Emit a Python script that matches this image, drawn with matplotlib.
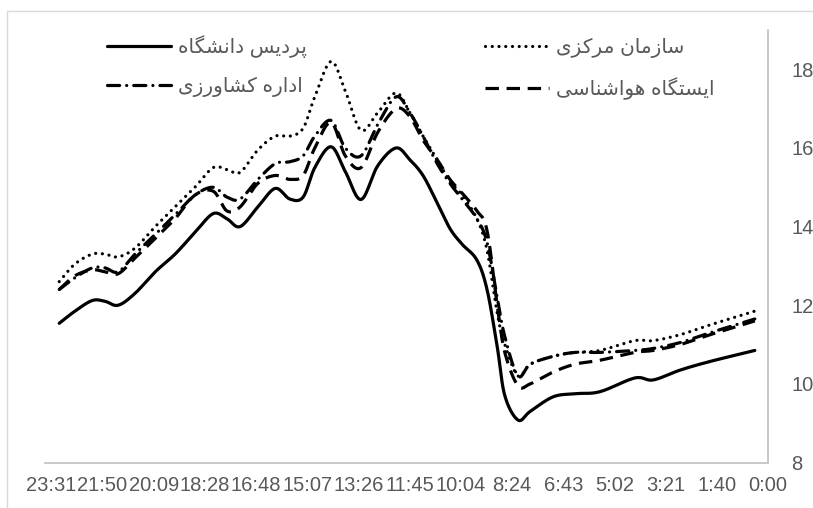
import numpy as np
import matplotlib.pyplot as plt
from matplotlib.patches import Rectangle

# time of day in minutes (axis runs right-to-left)
minutes = [1395, 1364, 1330, 1305, 1279, 1246, 1206, 1167, 1128, 1092, 1065,
           1039, 1004, 970, 941, 915, 892, 860, 832, 801, 768, 732, 705, 679,
           651, 626, 602, 573, 553, 533, 518, 492, 468, 423, 380, 331, 262,
           226, 173, 114, 26]

campus = [11.54, 11.85, 12.12, 12.1, 12.0, 12.3, 12.85, 13.3, 13.85, 14.33, 14.2,
          14.0, 14.5, 14.97, 14.7, 14.75, 15.5, 16.03, 15.4, 14.69, 15.55, 16.0,
          15.7, 15.3, 14.6, 13.95, 13.55, 13.15, 12.4, 10.95, 9.7, 9.08, 9.3,
          9.67, 9.75, 9.8, 10.15, 10.1, 10.35, 10.57, 10.85]
central = [12.6, 13.05, 13.3, 13.3, 13.23, 13.45, 14.0, 14.5, 15.0, 15.5, 15.45,
           15.38, 15.95, 16.3, 16.3, 16.5, 17.3, 18.2, 17.45, 16.45, 16.9, 17.4,
           16.9, 16.3, 15.7, 15.15, 14.8, 14.2, 13.4, 11.8, 11.0, 10.2, 10.5,
           10.7, 10.8, 10.85, 11.1, 11.1, 11.25, 11.5, 11.85]
agri = [12.4, 12.7, 12.95, 12.95, 12.85, 13.3, 13.8, 14.3, 14.8, 15.0, 14.75,
        14.7, 15.2, 15.6, 15.65, 15.8, 16.3, 16.7, 16.0, 15.8, 16.6, 17.3,
        16.9, 16.3, 15.6, 15.1, 14.7, 14.2, 13.6, 12.2, 11.2, 10.2, 10.5,
        10.7, 10.8, 10.8, 10.85, 10.9, 11.05, 11.3, 11.65]
met = [12.4, 12.75, 12.9, 12.85, 12.8, 13.2, 13.7, 14.2, 14.8, 14.9, 14.4,
       14.5, 15.1, 15.3, 15.2, 15.3, 16.0, 16.65, 15.8, 15.5, 16.4, 17.0,
       16.8, 16.2, 15.7, 15.2, 14.85, 14.4, 13.9, 12.0, 10.8, 9.95, 10.0,
       10.3, 10.5, 10.6, 10.8, 10.85, 11.0, 11.25, 11.6]

names = ["پردیس دانشگاه", "سازمان مرکزی", "اداره کشاورزی", "ایستگاه هواشناسی"]

tick_labels = ["23:31", "21:50", "20:09", "18:28", "16:48", "15:07", "13:26",
               "11:45", "10:04", "8:24", "6:43", "5:02", "3:21", "1:40", "0:00"]

# contextual forms: (isolated, final, initial, medial)
FORMS = {
    "ا": ("\uFE8D", "\uFE8E", None, None),
    "د": ("\uFEA9", "\uFEAA", None, None),
    "ر": ("\uFEAD", "\uFEAE", None, None),
    "ز": ("\uFEAF", "\uFEB0", None, None),
    "و": ("\uFEED", "\uFEEE", None, None),
    "پ": ("\uFB56", "\uFB57", "\uFB58", "\uFB59"),
    "ت": ("\uFE95", "\uFE96", "\uFE97", "\uFE98"),
    "س": ("\uFEB1", "\uFEB2", "\uFEB3", "\uFEB4"),
    "ش": ("\uFEB5", "\uFEB6", "\uFEB7", "\uFEB8"),
    "ک": ("\uFB8E", "\uFB8F", "\uFB90", "\uFB91"),
    "گ": ("\uFB92", "\uFB93", "\uFB94", "\uFB95"),
    "م": ("\uFEE1", "\uFEE2", "\uFEE3", "\uFEE4"),
    "ن": ("\uFEE5", "\uFEE6", "\uFEE7", "\uFEE8"),
    "ه": ("\uFEE9", "\uFEEA", "\uFEEB", "\uFEEC"),
    "ی": ("\uFBFC", "\uFBFD", "\uFBFE", "\uFBFF"),
}


def shape(s):
    # matplotlib has no bidi/shaping, so join letters and reverse by hand
    out = []
    for i, c in enumerate(s):
        if c not in FORMS:
            out.append(c)
            continue
        prev = s[i - 1] if i > 0 else ""
        nxt = s[i + 1] if i + 1 < len(s) else ""
        pj = prev in FORMS and FORMS[prev][2] is not None
        nj = nxt in FORMS and FORMS[c][2] is not None
        iso, fin, ini, med = FORMS[c]
        if pj and nj:
            out.append(med)
        elif pj:
            out.append(fin)
        elif nj:
            out.append(ini)
        else:
            out.append(iso)
    return "".join(out)[::-1]


def smooth(x, y, n=16):
    x = np.asarray(x, float)
    y = np.asarray(y, float)
    px = np.concatenate([[2 * x[0] - x[1]], x, [2 * x[-1] - x[-2]]])
    py = np.concatenate([[2 * y[0] - y[1]], y, [2 * y[-1] - y[-2]]])
    t = np.linspace(0, 1, n, endpoint=False)
    xs, ys = [], []
    for i in range(1, len(px) - 2):
        for p, out in ((px, xs), (py, ys)):
            p0, p1, p2, p3 = p[i - 1], p[i], p[i + 1], p[i + 2]
            out.extend(0.5 * (2 * p1 + (-p0 + p2) * t
                              + (2 * p0 - 5 * p1 + 4 * p2 - p3) * t ** 2
                              + (-p0 + 3 * p1 - 3 * p2 + p3) * t ** 3))
    xs.append(x[-1])
    ys.append(y[-1])
    return np.array(xs), np.array(ys)


plt.rcParams["font.family"] = ["Liberation Sans", "DejaVu Sans"]
grey = "#595959"

fig = plt.figure(figsize=(8.13, 5.08), dpi=100)
fig.patches.append(Rectangle((7 / 813, -0.1), 1.2, (498 + 50) / 508, transform=fig.transFigure,
                             fill=False, edgecolor="#d9d9d9", lw=1))
ax = fig.add_axes([45 / 813, 45.5 / 508, 723 / 813, 432.5 / 508])

styles = [
    dict(ls="-", lw=2.3, solid_capstyle="round"),
    dict(ls=(0, (0.01, 2.1)), lw=2.3, dash_capstyle="round"),
    dict(ls=(0, (3.8, 2.2, 0.01, 2.2)), lw=2.3, dash_capstyle="round"),
    dict(ls=(0, (4.2, 2.4)), lw=2.3, dash_capstyle="butt"),
]
lines = []
for series, name, st in zip([campus, central, agri, met], names, styles):
    sx, sy = smooth(minutes, series)
    ln, = ax.plot(sx, sy, color="black", label=shape(name), **st)
    lines.append(ln)

ax.set_xlim(1423, 0)
ax.set_ylim(8, 19)
ax.set_yticks(np.arange(8, 19, 2))
ticks = [int(s.split(":")[0]) * 60 + int(s.split(":")[1]) for s in tick_labels]
ax.set_xticks(ticks)
ax.set_xticklabels(tick_labels)

ax.yaxis.tick_right()
for side in ["top", "left"]:
    ax.spines[side].set_visible(False)
for side in ["right", "bottom"]:
    ax.spines[side].set_color("#bfbfbf")
    ax.spines[side].set_linewidth(1.2)
ax.tick_params(axis="y", length=0, pad=17, labelsize=14.5, labelcolor=grey)
ax.tick_params(axis="x", length=0, pad=10, labelsize=14.5, labelcolor=grey)

order = [0, 2, 1, 3]
leg = ax.legend([lines[i] for i in order], [shape(names[i]) for i in order],
                ncol=2, frameon=False, loc="upper left",
                bbox_to_anchor=(62 / 723, 0.988), borderpad=0, borderaxespad=0,
                handlelength=3.2, handletextpad=0.35, columnspacing=8.8,
                labelspacing=0.95, fontsize=14.5, labelcolor=grey)

fig.savefig("out.png", dpi=100)
